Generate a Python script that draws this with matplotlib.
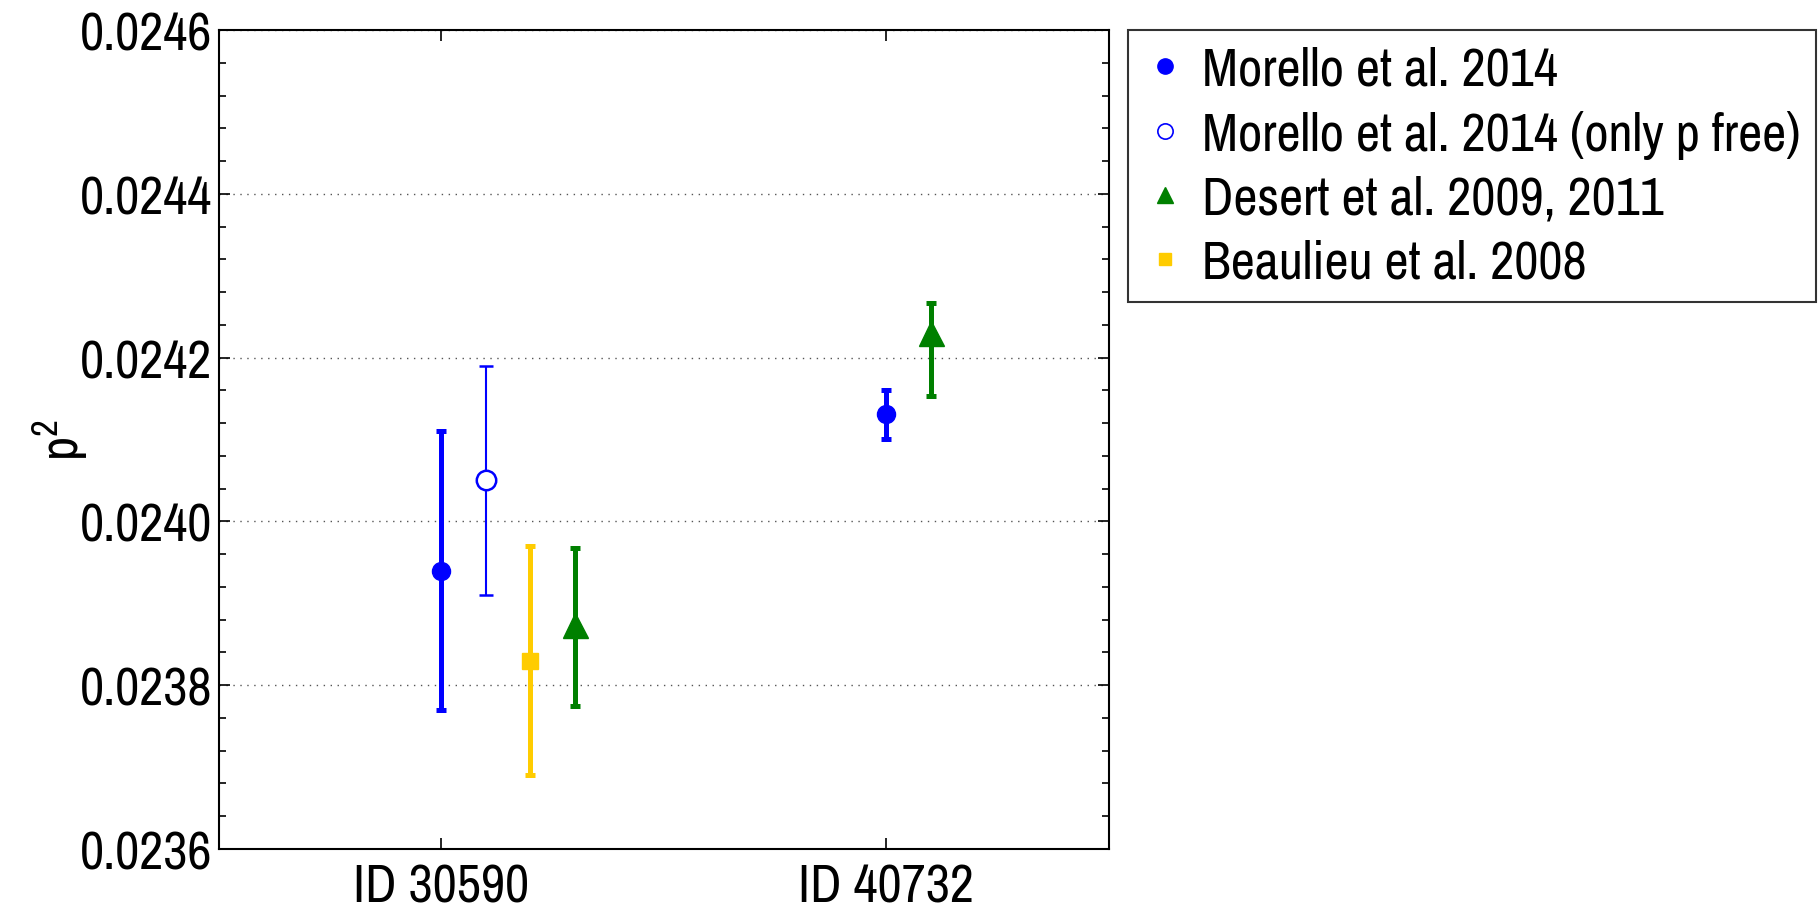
import numpy as np
import matplotlib
matplotlib.use('Agg')
import matplotlib.pyplot as plt
from matplotlib.lines import Line2D

# narrow Helvetica-like face, as in the MATLAB export
plt.rcParams['font.family'] = ['Archivo Narrow', 'Roboto Condensed', 'Liberation Sans', 'DejaVu Sans']
plt.rcParams['mathtext.fontset'] = 'custom'
plt.rcParams['mathtext.rm'] = 'Archivo Narrow'

# data
groups = ['ID 30590', 'ID 40732']
group_pos = [1, 2]

morello_x = [1.0, 2.0]
morello_y = [0.02394, 0.024131]
morello_err = [0.00017, 0.00003]

pfree_x = [1.1]
pfree_y = [0.02405]
pfree_err = [0.00014]

beaulieu_x = [1.2]
beaulieu_y = [0.02383]
beaulieu_err = [0.00014]

desert_x = [1.3, 2.1]
desert_y = [0.023874, 0.02423]
desert_err_lo = [0.000099, 0.000077]
desert_err_hi = [0.000094, 0.000037]

labels = ['Morello et al. 2014', 'Morello et al. 2014 (only p free)',
          'Desert et al. 2009, 2011', 'Beaulieu et al. 2008']

blue = '#0000ff'
green = '#008000'
yellow = '#ffcc00'

fig = plt.figure(figsize=(18.2, 9.12), dpi=100)
ax = fig.add_axes([0.1203, 0.068, 0.4890, 0.898])

thick = 3.6
ax.errorbar(morello_x, morello_y, yerr=morello_err, fmt='o', color=blue,
            ms=13, elinewidth=thick, capsize=3.5, capthick=thick, zorder=3)
ax.errorbar(pfree_x, pfree_y, yerr=pfree_err, fmt='o', color=blue, mfc='white',
            mec=blue, mew=1.8, ms=14, elinewidth=1.5, capsize=5, capthick=1.8, zorder=3)
ax.errorbar(beaulieu_x, beaulieu_y, yerr=beaulieu_err, fmt='s', color=yellow,
            ms=12, elinewidth=thick, capsize=3.5, capthick=thick, zorder=3)
ax.errorbar(desert_x, desert_y, yerr=[desert_err_lo, desert_err_hi], fmt='^',
            color=green, ms=18, elinewidth=thick, capsize=3.5, capthick=thick, zorder=3)

ax.set_xlim(0.5, 2.5)
ax.set_ylim(0.0236, 0.0246)
ax.set_xticks(group_pos)
ax.set_xticklabels(groups)
yt = np.arange(0.0236, 0.02461, 0.0002)
ax.set_yticks(yt)
ax.set_yticklabels(['%.4f' % v for v in yt])
ax.set_yticks(np.arange(0.0236, 0.02461, 0.00004), minor=True)
ax.tick_params(axis='both', which='both', direction='in', top=True, right=True,
               labelsize=38, width=1.2)
ax.tick_params(axis='x', pad=10)
ax.tick_params(axis='y', pad=5)
ax.tick_params(axis='both', which='major', length=8)
ax.tick_params(axis='both', which='minor', length=5)
ax.tick_params(axis='x', which='minor', top=False, bottom=False)
ax.yaxis.grid(True, which='major', linestyle=(0, (1, 4)), color='#555555', linewidth=1.0)
ax.set_axisbelow(True)
for s in ax.spines.values():
    s.set_linewidth(1.5)
ax.set_ylabel(r'p$^{\mathrm{2}}$', fontsize=38)
ax.yaxis.set_label_coords(-0.145, 0.5)

handles = [
    Line2D([], [], marker='o', ls='none', color=blue, ms=11),
    Line2D([], [], marker='o', ls='none', mfc='white', mec=blue, mew=1.2, ms=11),
    Line2D([], [], marker='^', ls='none', color=green, ms=11),
    Line2D([], [], marker='s', ls='none', color=yellow, ms=9),
]
leg = fig.legend(handles, labels, loc='upper left', bbox_to_anchor=(0.6198, 0.966),
                 fontsize=38, frameon=True, fancybox=False, handlelength=0.8,
                 handletextpad=0.3, labelspacing=0.3, borderpad=0.3, borderaxespad=0)
leg.get_frame().set_edgecolor('black')
leg.get_frame().set_linewidth(1.5)

fig.savefig('out.png', dpi=100)
